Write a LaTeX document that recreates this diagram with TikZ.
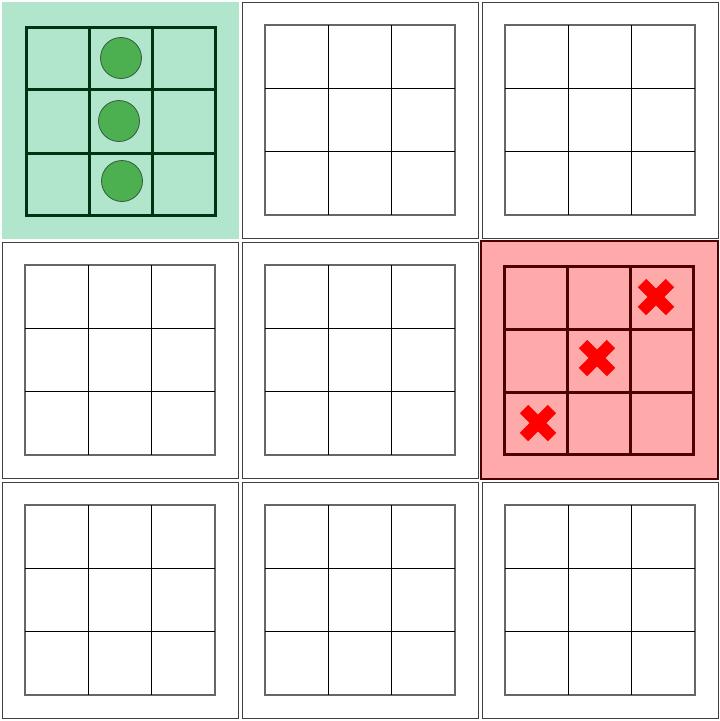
\documentclass[tikz,border=0pt]{standalone}
\usetikzlibrary{positioning}
\definecolor{winfill}{RGB}{178,230,204}
\definecolor{winline}{RGB}{0,51,17}
\definecolor{dotfill}{RGB}{76,175,80}
\definecolor{losefill}{RGB}{255,170,170}
\definecolor{loseline}{RGB}{77,0,0}
\definecolor{crossred}{RGB}{255,0,0}
\tikzset{
  panel/.style={draw=black!75, line width=0.9pt},
  cellgrid/.style={draw=black, line width=1.4pt},
  cellrim/.style={draw=black!60, line width=1.1pt},
  stone/.style={fill=dotfill, draw=winline!80, line width=0.8pt},
  cross/.style={draw=crossred, line width=12pt, line cap=butt}
}
\begin{document}
\begin{tikzpicture}[x=1pt,y=-1pt]
        \useasboundingbox (0,0) rectangle (720,721);
        % the nine boards
        \foreach \i in {0,1,2}
          \foreach \j in {0,1,2} {
            \draw[panel] (240*\i+2,240*\j+2) rectangle (240*\i+238,240*\j+238);
            \draw[cellrim] (240*\i+25,240*\j+25) rectangle (240*\i+215,240*\j+215);
            \foreach \k in {1,2} {
              \draw[cellgrid] (240*\i+25+63.3*\k,240*\j+25) -- (240*\i+25+63.3*\k,240*\j+215);
              \draw[cellgrid] (240*\i+25,240*\j+25+63.3*\k) -- (240*\i+215,240*\j+25+63.3*\k);
            }
          }
        % winning board
        \fill[winfill] (2,2) rectangle (239,239);
        \draw[winline, line width=3pt] (26,27) rectangle (215,215);
        \draw[winline, line width=3pt] (89,27) -- (89,215) (152,27) -- (152,215)
             (26,89) -- (215,89) (26,153) -- (215,153);
        \draw[stone] (121,58) circle (20.5);
        \draw[stone] (119,121) circle (20.5);
        \draw[stone] (122,181) circle (20.5);
        % losing board
        \fill[losefill] (481,241) rectangle (718,479);
        \draw[loseline, line width=1.2pt] (481,241) rectangle (718,479);
        \draw[loseline, line width=3pt] (504,266) rectangle (693,454);
        \draw[loseline, line width=3pt] (567,266) -- (567,454) (630,266) -- (630,454)
             (504,329) -- (693,329) (504,392) -- (693,392);
        \foreach \cx/\cy in {656/297, 597/358, 538/423} {
          \draw[cross] (\cx-14,\cy-14) -- (\cx+14,\cy+14);
          \draw[cross] (\cx-14,\cy+14) -- (\cx+14,\cy-14);
        }
    \end{tikzpicture}
\end{document}
